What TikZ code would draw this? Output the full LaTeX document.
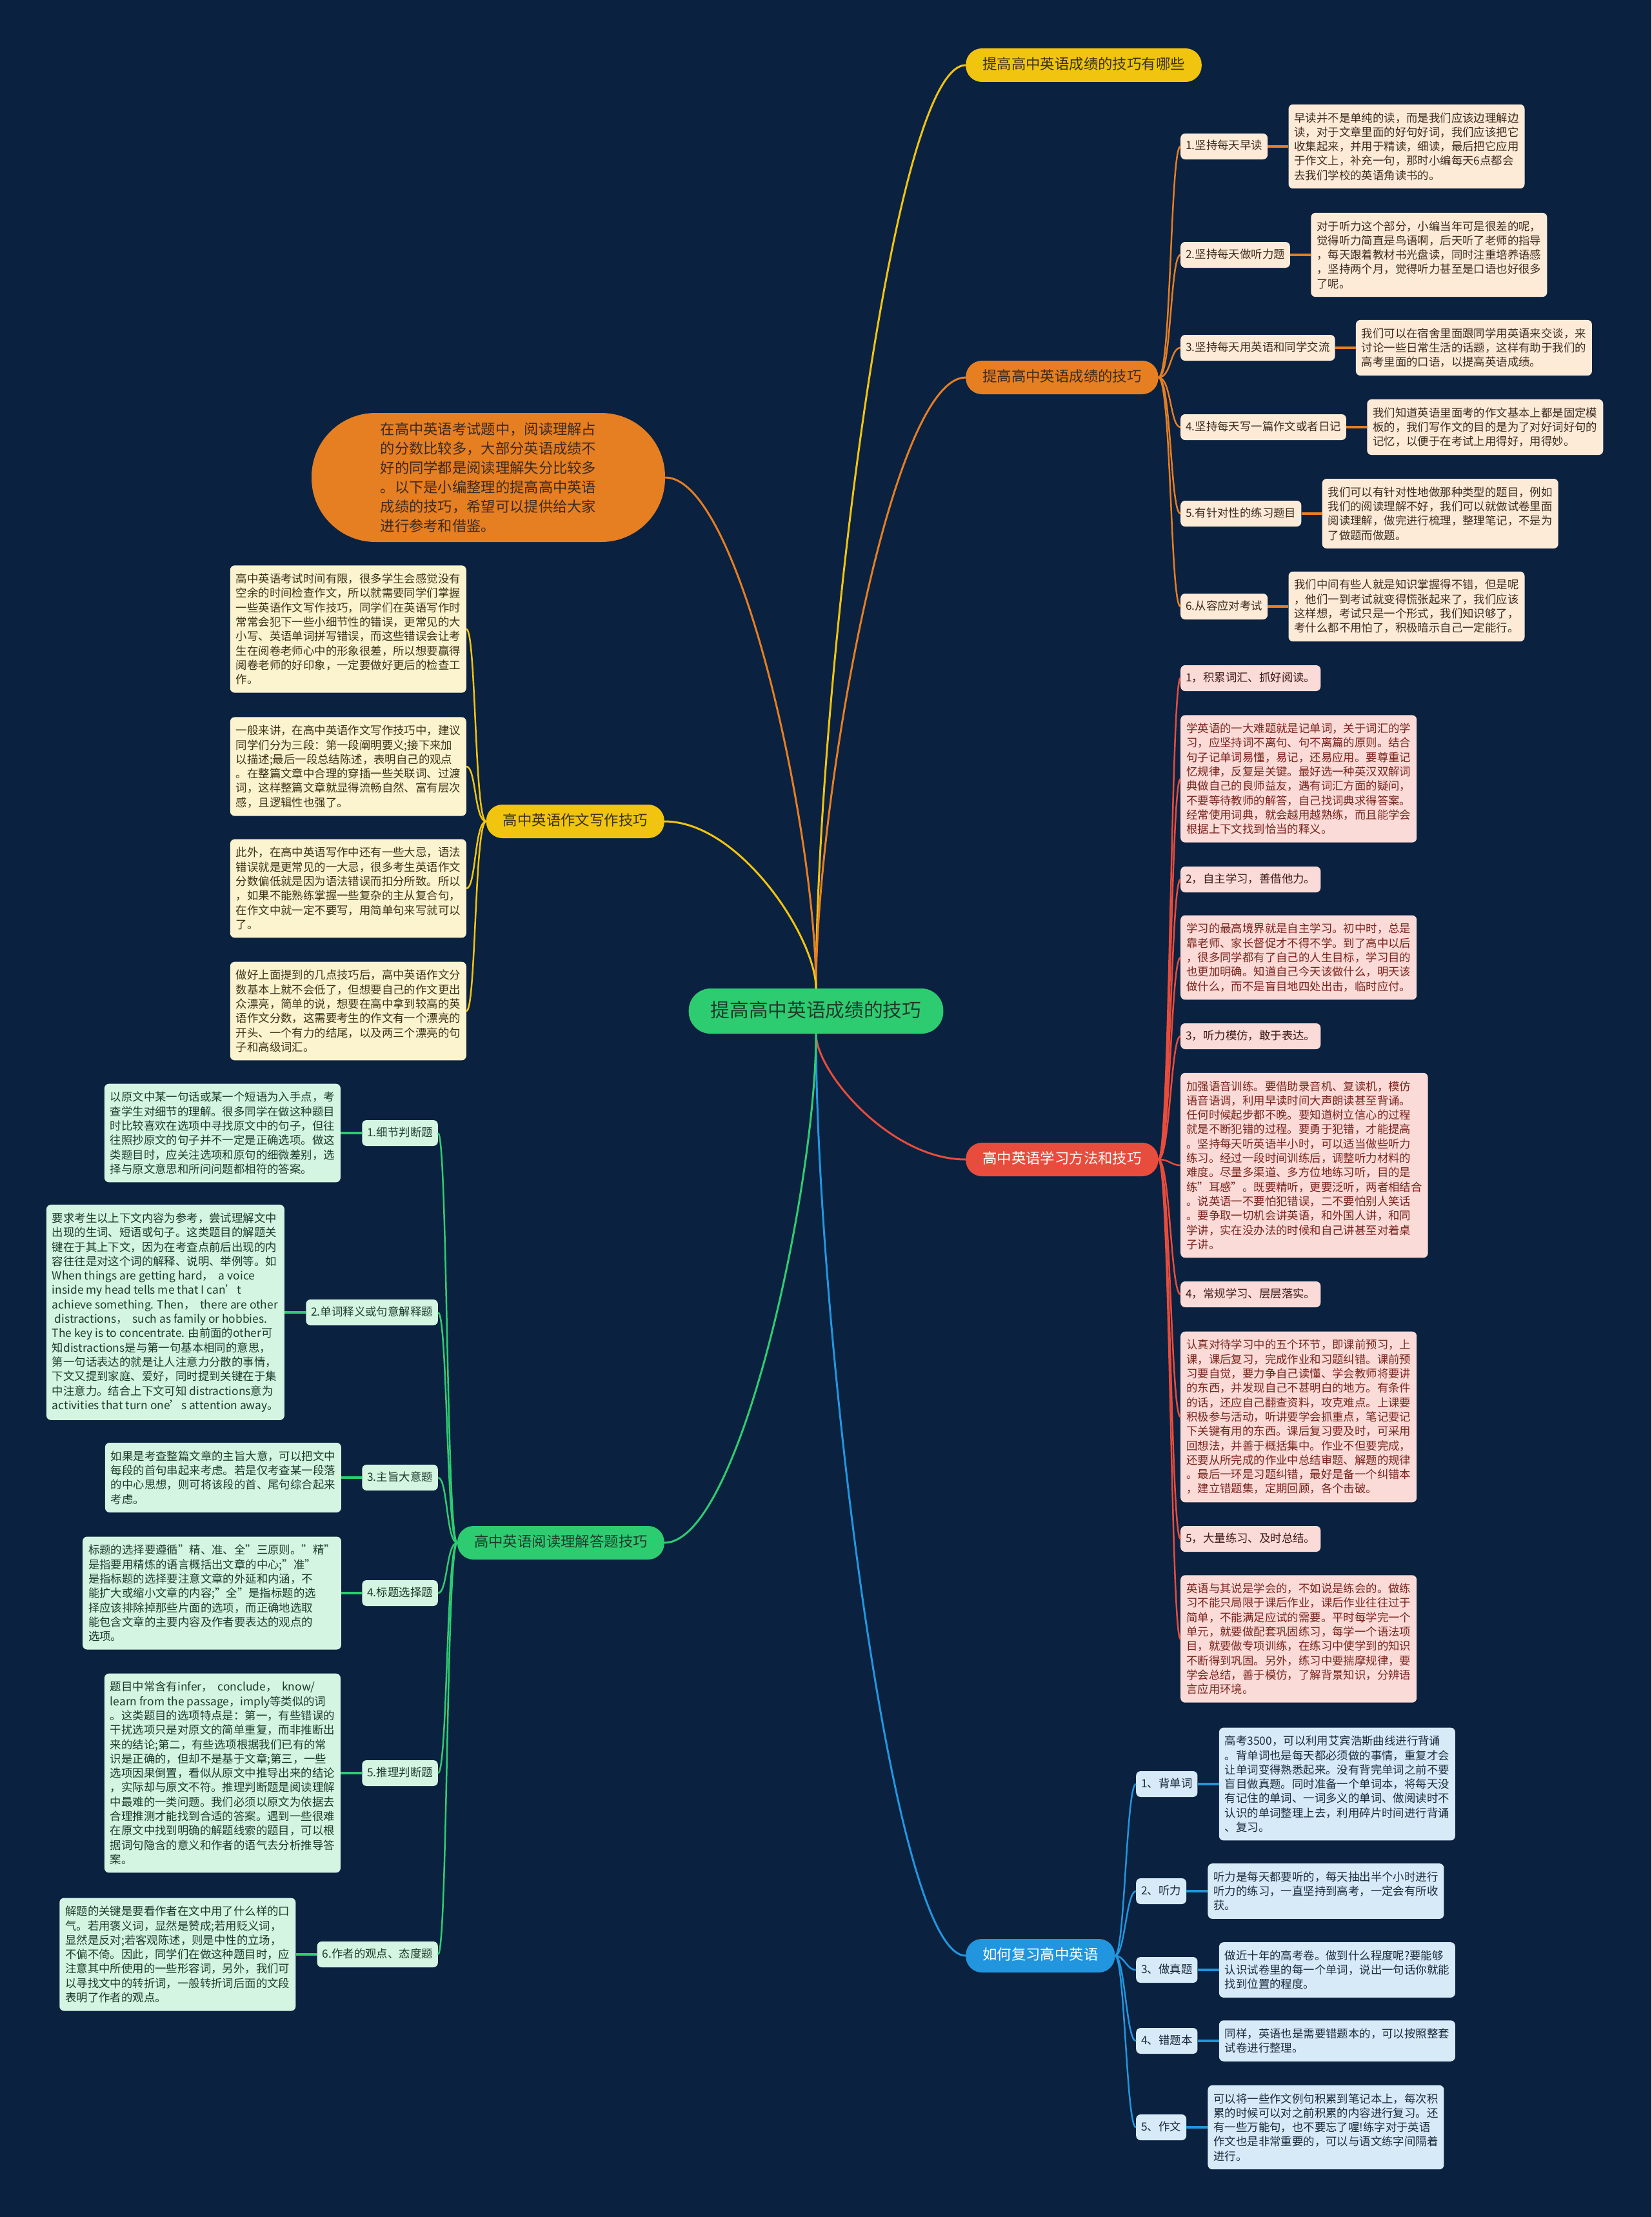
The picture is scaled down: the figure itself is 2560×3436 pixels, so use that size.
\documentclass[tikz,border=0pt]{standalone}
\usepackage{fontspec}
\setmainfont{Noto Sans CJK SC}
\usetikzlibrary{positioning}

\definecolor{MapNavy}{HTML}{0A2140}
\definecolor{MapGreen}{HTML}{2ECC71}
\definecolor{MapYellow}{HTML}{F1C40F}
\definecolor{MapOrange}{HTML}{E67E22}
\definecolor{MapRed}{HTML}{E74C3C}
\definecolor{MapBlue}{HTML}{2196DE}
\definecolor{MapMint}{HTML}{D5F5E3}
\definecolor{MapCream}{HTML}{FCF3CF}
\definecolor{MapPeach}{HTML}{FDEBD8}
\definecolor{MapPink}{HTML}{FADBD8}
\definecolor{MapSky}{HTML}{D6EAF8}
\definecolor{GreenInk}{HTML}{1D3B2C}
\definecolor{YellowInk}{HTML}{3B3318}
\definecolor{OrangeInk}{HTML}{3D2B1F}
\definecolor{RedInk}{HTML}{7B241C}
\definecolor{RedTagInk}{HTML}{3E1A16}
\definecolor{BlueInk}{HTML}{1B2B3C}

\tikzset{
  leafbox/.style={font=\fontsize{17.4}{22.3}\selectfont, align=left,
    inner xsep=9pt, inner ysep=12.5pt, rounded corners=7pt},
  tagbox/.style={leafbox, text height=14pt, text depth=4pt, inner ysep=11pt, inner xsep=8pt},
  pillnode/.style={rounded corners=25pt, font=\fontsize{22.4}{28}\selectfont,
    text height=18pt, text depth=5pt, inner xsep=26pt, inner ysep=14.5pt},
  otag/.style={tagbox, fill=MapPeach, text=OrangeInk},
  odet/.style={leafbox, fill=MapPeach, text=OrangeInk},
  ydet/.style={leafbox, fill=MapCream, text=YellowInk},
  rtag/.style={tagbox, fill=MapPink, text=RedTagInk},
  rdet/.style={leafbox, fill=MapPink, text=RedInk},
  btag/.style={tagbox, fill=MapSky, text=BlueInk},
  bdet/.style={leafbox, fill=MapSky, text=BlueInk},
  gtag/.style={tagbox, fill=MapMint, text=GreenInk},
  gdet/.style={leafbox, fill=MapMint, text=GreenInk},
  stem/.style={line width=3pt},
  trunk/.style={line width=2.5pt},
  twig/.style={line width=4pt}
}

\begin{document}
\begin{tikzpicture}[x=1pt, y=-1pt]
  % Background
  \fill[MapNavy] (0,0) rectangle (2560,3436);

  % Centre
  \node[pillnode, fill=MapGreen, text=GreenInk, rounded corners=34pt,
    font=\fontsize{29.7}{36}\selectfont, text height=24pt, text depth=6pt,
    inner xsep=34pt, inner ysep=20pt] (ctr) at (1265,1567) {提高高中英语成绩的技巧};

  % Main branches, right
  \node[pillnode, fill=MapYellow, text=YellowInk, anchor=west] (tips) at (1497,101) {提高高中英语成绩的技巧有哪些};
  \node[pillnode, fill=MapOrange, text=OrangeInk, anchor=west] (ways) at (1497,585) {提高高中英语成绩的技巧};
  \node[pillnode, fill=MapRed, text=white, anchor=west] (study) at (1497,1797) {高中英语学习方法和技巧};
  \node[pillnode, fill=MapBlue, text=white, anchor=west] (review) at (1497,3031) {如何复习高中英语};

  % Main branches, left
  \node[fill=MapOrange, text=OrangeInk, rounded corners=99pt, minimum width=548pt,
    minimum height=200pt, align=left, font=\fontsize{22.3}{30}\selectfont] (intro) at (757,740)
    {在高中英语考试题中，阅读理解占\\的分数比较多，大部分英语成绩不\\好的同学都是阅读理解失分比较多\\。以下是小编整理的提高高中英语\\成绩的技巧，希望可以提供给大家\\进行参考和借鉴。};
  \node[pillnode, fill=MapYellow, text=YellowInk, anchor=east] (essay) at (1030,1273) {高中英语作文写作技巧};
  \node[pillnode, fill=MapGreen, text=GreenInk, anchor=east] (read) at (1030,2391) {高中英语阅读理解答题技巧};

  % Orange section
  \node[otag, anchor=west] (o1) at (1830,227) {1.坚持每天早读};
  \node[odet, right=32pt of o1] (o1d) {早读并不是单纯的读，而是我们应该边理解边\\读，对于文章里面的好句好词，我们应该把它\\收集起来，并用于精读，细读，最后把它应用\\于作文上，补充一句，那时小编每天6点都会\\去我们学校的英语角读书的。};
  \node[otag, anchor=west] (o2) at (1830,395) {2.坚持每天做听力题};
  \node[odet, right=32pt of o2] (o2d) {对于听力这个部分，小编当年可是很差的呢，\\觉得听力简直是鸟语啊，后天听了老师的指导\\，每天跟着教材书光盘读，同时注重培养语感\\，坚持两个月，觉得听力甚至是口语也好很多\\了呢。};
  \node[otag, anchor=west] (o3) at (1830,539) {3.坚持每天用英语和同学交流};
  \node[odet, right=32pt of o3] (o3d) {我们可以在宿舍里面跟同学用英语来交谈，来\\讨论一些日常生活的话题，这样有助于我们的\\高考里面的口语，以提高英语成绩。};
  \node[otag, anchor=west] (o4) at (1830,662) {4.坚持每天写一篇作文或者日记};
  \node[odet, right=32pt of o4] (o4d) {我们知道英语里面考的作文基本上都是固定模\\板的，我们写作文的目的是为了对好词好句的\\记忆，以便于在考试上用得好，用得妙。};
  \node[otag, anchor=west] (o5) at (1830,796) {5.有针对性的练习题目};
  \node[odet, right=32pt of o5] (o5d) {我们可以有针对性地做那种类型的题目，例如\\我们的阅读理解不好，我们可以就做试卷里面\\阅读理解，做完进行梳理，整理笔记，不是为\\了做题而做题。};
  \node[otag, anchor=west] (o6) at (1830,940) {6.从容应对考试};
  \node[odet, right=32pt of o6] (o6d) {我们中间有些人就是知识掌握得不错，但是呢\\，他们一到考试就变得慌张起来了，我们应该\\这样想，考试只是一个形式，我们知识够了，\\考什么都不用怕了，积极暗示自己一定能行。};

  % Red section
  \node[rtag, anchor=west] (r1) at (1830,1051) {1，积累词汇、抓好阅读。};
  \node[rdet, anchor=west] (r1d) at (1830,1207) {学英语的一大难题就是记单词，关于词汇的学\\习，应坚持词不离句、句不离篇的原则。结合\\句子记单词易懂，易记，还易应用。要尊重记\\忆规律，反复是关键。最好选一种英汉双解词\\典做自己的良师益友，遇有词汇方面的疑问，\\不要等待教师的解答，自己找词典求得答案。\\经常使用词典，就会越用越熟练，而且能学会\\根据上下文找到恰当的释义。};
  \node[rtag, anchor=west] (r2) at (1830,1363) {2，自主学习，善借他力。};
  \node[rdet, anchor=west] (r2d) at (1830,1484) {学习的最高境界就是自主学习。初中时，总是\\靠老师、家长督促才不得不学。到了高中以后\\，很多同学都有了自己的人生目标，学习目的\\也更加明确。知道自己今天该做什么，明天该\\做什么，而不是盲目地四处出击，临时应付。};
  \node[rtag, anchor=west] (r3) at (1830,1606) {3，听力模仿，敢于表达。};
  \node[rdet, anchor=west] (r3d) at (1830,1806) {加强语音训练。要借助录音机、复读机，模仿\\语音语调，利用早读时间大声朗读甚至背诵。\\任何时候起步都不晚。要知道树立信心的过程\\就是不断犯错的过程。要勇于犯错，才能提高\\。坚持每天听英语半小时，可以适当做些听力\\练习。经过一段时间训练后，调整听力材料的\\难度。尽量多渠道、多方位地练习听，目的是\\练"耳感"。既要精听，更要泛听，两者相结合\\。说英语一不要怕犯错误，二不要怕别人笑话\\。要争取一切机会讲英语，和外国人讲，和同\\学讲，实在没办法的时候和自己讲甚至对着桌\\子讲。};
  \node[rtag, anchor=west] (r4) at (1830,2006) {4，常规学习、层层落实。};
  \node[rdet, anchor=west] (r4d) at (1830,2196) {认真对待学习中的五个环节，即课前预习，上\\课，课后复习，完成作业和习题纠错。课前预\\习要自觉，要力争自己读懂、学会教师将要讲\\的东西，并发现自己不甚明白的地方。有条件\\的话，还应自己翻查资料，攻克难点。上课要\\积极参与活动，听讲要学会抓重点，笔记要记\\下关键有用的东西。课后复习要及时，可采用\\回想法，并善于概括集中。作业不但要完成，\\还要从所完成的作业中总结审题、解题的规律\\。最后一环是习题纠错，最好是备一个纠错本\\，建立错题集，定期回顾，各个击破。};
  \node[rtag, anchor=west] (r5) at (1830,2385) {5，大量练习、及时总结。};
  \node[rdet, anchor=west] (r5d) at (1830,2540) {英语与其说是学会的，不如说是练会的。做练\\习不能只局限于课后作业，课后作业往往过于\\简单，不能满足应试的需要。平时每学完一个\\单元，就要做配套巩固练习，每学一个语法项\\目，就要做专项训练，在练习中使学到的知识\\不断得到巩固。另外，练习中要揣摩规律，要\\学会总结，善于模仿，了解背景知识，分辨语\\言应用环境。};

  % Blue section
  \node[btag, anchor=west] (b1) at (1761,2765) {1、背单词};
  \node[bdet, right=33pt of b1] (b1d) {高考3500，可以利用艾宾浩斯曲线进行背诵\\。背单词也是每天都必须做的事情，重复才会\\让单词变得熟悉起来。没有背完单词之前不要\\盲目做真题。同时准备一个单词本，将每天没\\有记住的单词、一词多义的单词、做阅读时不\\认识的单词整理上去，利用碎片时间进行背诵\\、复习。};
  \node[btag, anchor=west] (b2) at (1761,2931) {2、听力};
  \node[bdet, right=33pt of b2] (b2d) {听力是每天都要听的，每天抽出半个小时进行\\听力的练习，一直坚持到高考，一定会有所收\\获。};
  \node[btag, anchor=west] (b3) at (1761,3053) {3、做真题};
  \node[bdet, right=33pt of b3] (b3d) {做近十年的高考卷。做到什么程度呢?要能够\\认识试卷里的每一个单词，说出一句话你就能\\找到位置的程度。};
  \node[btag, anchor=west] (b4) at (1761,3163) {4、错题本};
  \node[bdet, right=33pt of b4] (b4d) {同样，英语也是需要错题本的，可以按照整套\\试卷进行整理。};
  \node[btag, anchor=west] (b5) at (1761,3297) {5、作文};
  \node[bdet, right=33pt of b5] (b5d) {可以将一些作文例句积累到笔记本上，每次积\\累的时候可以对之前积累的内容进行复习。还\\有一些万能句，也不要忘了喔!练字对于英语\\作文也是非常重要的，可以与语文练字间隔着\\进行。};

  % Yellow section
  \node[ydet, anchor=east] (y1) at (723,975) {高中英语考试时间有限，很多学生会感觉没有\\空余的时间检查作文，所以就需要同学们掌握\\一些英语作文写作技巧，同学们在英语写作时\\常常会犯下一些小细节性的错误，更常见的大\\小写、英语单词拼写错误，而这些错误会让考\\生在阅卷老师心中的形象很差，所以想要赢得\\阅卷老师的好印象，一定要做好更后的检查工\\作。};
  \node[ydet, anchor=east] (y2) at (723,1188) {一般来讲，在高中英语作文写作技巧中，建议\\同学们分为三段：第一段阐明要义;接下来加\\以描述;最后一段总结陈述，表明自己的观点\\。在整篇文章中合理的穿插一些关联词、过渡\\词，这样整篇文章就显得流畅自然、富有层次\\感，且逻辑性也强了。};
  \node[ydet, anchor=east] (y3) at (723,1377) {此外，在高中英语写作中还有一些大忌，语法\\错误就是更常见的一大忌，很多考生英语作文\\分数偏低就是因为语法错误而扣分所致。所以\\，如果不能熟练掌握一些复杂的主从复合句，\\在作文中就一定不要写，用简单句来写就可以\\了。};
  \node[ydet, anchor=east] (y4) at (723,1567) {做好上面提到的几点技巧后，高中英语作文分\\数基本上就不会低了，但想要自己的作文更出\\众漂亮，简单的说，想要在高中拿到较高的英\\语作文分数，这需要考生的作文有一个漂亮的\\开头、一个有力的结尾，以及两三个漂亮的句\\子和高级词汇。};

  % Green section
  \node[gtag, anchor=east] (g1) at (679,1756) {1.细节判断题};
  \node[gdet, left=33pt of g1] (g1d) {以原文中某一句话或某一个短语为入手点，考\\查学生对细节的理解。很多同学在做这种题目\\时比较喜欢在选项中寻找原文中的句子，但往\\往照抄原文的句子并不一定是正确选项。做这\\类题目时，应关注选项和原句的细微差别，选\\择与原文意思和所问问题都相符的答案。};
  \node[gtag, anchor=east] (g2) at (679,2034) {2.单词释义或句意解释题};
  \node[gdet, left=33pt of g2] (g2d) {要求考生以上下文内容为参考，尝试理解文中\\出现的生词、短语或句子。这类题目的解题关\\键在于其上下文，因为在考查点前后出现的内\\容往往是对这个词的解释、说明、举例等。如\\When things are getting hard，\ \ a voice\\inside my head tells me that I can’t\\achieve something. Then，\ \ there are other\\\ distractions，\ \ such as family or hobbies.\\The key is to concentrate. 由前面的other可\\知distractions是与第一句基本相同的意思，\\第一句话表达的就是让人注意力分散的事情，\\下文又提到家庭、爱好，同时提到关键在于集\\中注意力。结合上下文可知 distractions意为\\activities that turn one’s attention away。};
  \node[gtag, anchor=east] (g3) at (679,2290) {3.主旨大意题};
  \node[gdet, left=32pt of g3] (g3d) {如果是考查整篇文章的主旨大意，可以把文中\\每段的首句串起来考虑。若是仅考查某一段落\\的中心思想，则可将该段的首、尾句综合起来\\考虑。};
  \node[gtag, anchor=east] (g4) at (679,2469) {4.标题选择题};
  \node[gdet, left=32pt of g4] (g4d) {标题的选择要遵循"精、准、全"三原则。"精"\\是指要用精炼的语言概括出文章的中心;"准"\\是指标题的选择要注意文章的外延和内涵，不\\能扩大或缩小文章的内容;"全"是指标题的选\\择应该排除掉那些片面的选项，而正确地选取\\能包含文章的主要内容及作者要表达的观点的\\选项。};
  \node[gtag, anchor=east] (g5) at (679,2748) {5.推理判断题};
  \node[gdet, left=33pt of g5] (g5d) {题目中常含有infer，\ \ conclude，\ \ know/\\learn from the passage，imply等类似的词\\。这类题目的选项特点是：第一，有些错误的\\干扰选项只是对原文的简单重复，而非推断出\\来的结论;第二，有些选项根据我们已有的常\\识是正确的，但却不是基于文章;第三，一些\\选项因果倒置，看似从原文中推导出来的结论\\，实际却与原文不符。推理判断题是阅读理解\\中最难的一类问题。我们必须以原文为依据去\\合理推测才能找到合适的答案。遇到一些很难\\在原文中找到明确的解题线索的题目，可以根\\据词句隐含的意义和作者的语气去分析推导答\\案。};
  \node[gtag, anchor=east] (g6) at (679,3029) {6.作者的观点、态度题};
  \node[gdet, left=33pt of g6] (g6d) {解题的关键是要看作者在文中用了什么样的口\\气。若用褒义词，显然是赞成;若用贬义词，\\显然是反对;若客观陈述，则是中性的立场，\\不偏不倚。因此，同学们在做这种题目时，应\\注意其中所使用的一些形容词，另外，我们可\\以寻找文中的转折词，一般转折词后面的文段\\表明了作者的观点。};

  % Centre to main branches
  \draw[stem, MapYellow] (ctr.north) .. controls +(0,-429) and +(-117,0) .. (tips.west);
  \draw[stem, MapOrange] (ctr.north) .. controls +(0,-284) and +(-117,0) .. (ways.west);
  \draw[stem, MapRed] (ctr.south) .. controls +(0,59) and +(-117,0) .. (study.west);
  \draw[stem, MapBlue] (ctr.south) .. controls +(0,429) and +(-117,0) .. (review.west);
  \draw[stem, MapOrange] (ctr.north) .. controls +(0,-238) and +(117,0) .. (intro.east);
  \draw[stem, MapYellow] (ctr.north) .. controls +(0,-78) and +(117,0) .. (essay.east);
  \draw[stem, MapGreen] (ctr.south) .. controls +(0,237) and +(117,0) .. (read.east);

  % Orange branch
  \draw[trunk, MapOrange] (ways.east) .. controls +(20,0) and +(-16,0) .. (o1.west);
  \draw[trunk, MapOrange] (ways.east) .. controls +(20,0) and +(-16,0) .. (o2.west);
  \draw[trunk, MapOrange] (ways.east) .. controls +(20,0) and +(-16,0) .. (o3.west);
  \draw[trunk, MapOrange] (ways.east) .. controls +(20,0) and +(-16,0) .. (o4.west);
  \draw[trunk, MapOrange] (ways.east) .. controls +(20,0) and +(-16,0) .. (o5.west);
  \draw[trunk, MapOrange] (ways.east) .. controls +(20,0) and +(-16,0) .. (o6.west);
  \draw[twig, MapOrange] (o1.east) -- (o1d.west);
  \draw[twig, MapOrange] (o2.east) -- (o2d.west);
  \draw[twig, MapOrange] (o3.east) -- (o3d.west);
  \draw[twig, MapOrange] (o4.east) -- (o4d.west);
  \draw[twig, MapOrange] (o5.east) -- (o5d.west);
  \draw[twig, MapOrange] (o6.east) -- (o6d.west);

  % Red branch
  \draw[trunk, MapRed] (study.east) .. controls +(18,0) and +(-15,0) .. (r1.west);
  \draw[trunk, MapRed] (study.east) .. controls +(18,0) and +(-15,0) .. (r1d.west);
  \draw[trunk, MapRed] (study.east) .. controls +(18,0) and +(-15,0) .. (r2.west);
  \draw[trunk, MapRed] (study.east) .. controls +(18,0) and +(-15,0) .. (r2d.west);
  \draw[trunk, MapRed] (study.east) .. controls +(18,0) and +(-15,0) .. (r3.west);
  \draw[trunk, MapRed] (study.east) .. controls +(18,0) and +(-15,0) .. (r3d.west);
  \draw[trunk, MapRed] (study.east) .. controls +(18,0) and +(-15,0) .. (r4.west);
  \draw[trunk, MapRed] (study.east) .. controls +(18,0) and +(-15,0) .. (r4d.west);
  \draw[trunk, MapRed] (study.east) .. controls +(18,0) and +(-15,0) .. (r5.west);
  \draw[trunk, MapRed] (study.east) .. controls +(18,0) and +(-15,0) .. (r5d.west);

  % Blue branch
  \draw[trunk, MapBlue] (review.east) .. controls +(15,0) and +(-15,0) .. (b1.west);
  \draw[trunk, MapBlue] (review.east) .. controls +(15,0) and +(-15,0) .. (b2.west);
  \draw[trunk, MapBlue] (review.east) .. controls +(15,0) and +(-15,0) .. (b3.west);
  \draw[trunk, MapBlue] (review.east) .. controls +(15,0) and +(-15,0) .. (b4.west);
  \draw[trunk, MapBlue] (review.east) .. controls +(15,0) and +(-15,0) .. (b5.west);
  \draw[twig, MapBlue] (b1.east) -- (b1d.west);
  \draw[twig, MapBlue] (b2.east) -- (b2d.west);
  \draw[twig, MapBlue] (b3.east) -- (b3d.west);
  \draw[twig, MapBlue] (b4.east) -- (b4d.west);
  \draw[twig, MapBlue] (b5.east) -- (b5d.west);

  % Yellow branch
  \draw[trunk, MapYellow] (essay.west) .. controls +(-18,0) and +(15,0) .. (y1.east);
  \draw[trunk, MapYellow] (essay.west) .. controls +(-18,0) and +(15,0) .. (y2.east);
  \draw[trunk, MapYellow] (essay.west) .. controls +(-18,0) and +(15,0) .. (y3.east);
  \draw[trunk, MapYellow] (essay.west) .. controls +(-18,0) and +(15,0) .. (y4.east);

  % Green branch
  \draw[trunk, MapGreen] (read.west) .. controls +(-17,0) and +(15,0) .. (g1.east);
  \draw[trunk, MapGreen] (read.west) .. controls +(-17,0) and +(15,0) .. (g2.east);
  \draw[trunk, MapGreen] (read.west) .. controls +(-17,0) and +(15,0) .. (g3.east);
  \draw[trunk, MapGreen] (read.west) .. controls +(-17,0) and +(15,0) .. (g4.east);
  \draw[trunk, MapGreen] (read.west) .. controls +(-17,0) and +(15,0) .. (g5.east);
  \draw[trunk, MapGreen] (read.west) .. controls +(-17,0) and +(15,0) .. (g6.east);
  \draw[twig, MapGreen] (g1.west) -- (g1d.east);
  \draw[twig, MapGreen] (g2.west) -- (g2d.east);
  \draw[twig, MapGreen] (g3.west) -- (g3d.east);
  \draw[twig, MapGreen] (g4.west) -- (g4d.east);
  \draw[twig, MapGreen] (g5.west) -- (g5d.east);
  \draw[twig, MapGreen] (g6.west) -- (g6d.east);
\end{tikzpicture}
\end{document}
